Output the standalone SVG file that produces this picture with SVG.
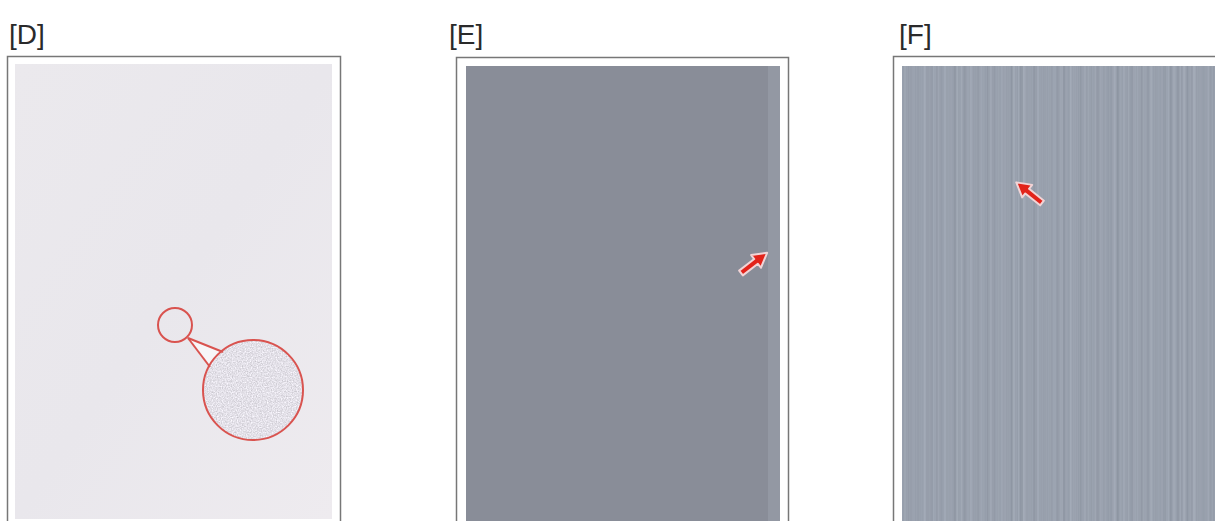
<svg xmlns="http://www.w3.org/2000/svg" width="1215" height="521" viewBox="0 0 1215 521">
<style>
.lbl{font-family:"Liberation Sans",Arial,sans-serif;font-size:28px;fill:#2a2a2a}
.frame{fill:#fff;stroke:#777;stroke-width:1.5}
.ring{fill:none;stroke:#d9534f;stroke-width:2}
.arrow{fill:#e2231a;stroke:#f2d4d6;stroke-width:2;stroke-linejoin:round}
</style>
<defs>
<linearGradient id="gD" x1="0" y1="0" x2="1" y2="1">
<stop offset="0" stop-color="#ebe9ed"/>
<stop offset="0.5" stop-color="#e9e7ec"/>
<stop offset="1" stop-color="#eeebef"/>
</linearGradient>
<filter id="speck" x="0" y="0" width="100%" height="100%" color-interpolation-filters="sRGB">
<feTurbulence type="fractalNoise" baseFrequency="0.8" numOctaves="2" seed="3" result="n"/>
<feColorMatrix in="n" type="matrix" values="0 0 0 0.3 0.74  0 0 0 0.3 0.73  0 0 0 0.3 0.76  0 0 0 0 1" result="c"/>
<feComposite in="c" in2="SourceGraphic" operator="in"/>
</filter>
<filter id="stripes" x="0" y="0" width="100%" height="100%" color-interpolation-filters="sRGB">
<feTurbulence type="fractalNoise" baseFrequency="0.3 0" numOctaves="3" seed="7" result="n"/>
<feColorMatrix in="n" type="matrix" values="0 0 0 0.16 0.52  0 0 0 0.16 0.55  0 0 0 0.16 0.6  0 0 0 0 1" result="c"/>
<feComposite in="c" in2="SourceGraphic" operator="in"/>
</filter>
<path id="arr" class="arrow" d="M0,-3 L19,-3 L19,-8 L33,0 L19,8 L19,3 L0,3 Z"/>
</defs>
<g id="panelD">
<text class="lbl" x="9" y="44">[D]</text>
<rect class="frame" x="7.5" y="56.5" width="333" height="475"/>
<rect x="15" y="64" width="317" height="455" fill="url(#gD)"/>
<g id="zoomD">
<path d="M188,338 L223,352 L210,367 Z" fill="#f7f6f8"/>
<circle cx="253" cy="390" r="50" fill="#fff" filter="url(#speck)"/>
<line x1="188" y1="338" x2="223" y2="352" stroke="#d9534f" stroke-width="2"/>
<line x1="188" y1="338" x2="210" y2="367" stroke="#d9534f" stroke-width="2"/>
<circle class="ring" cx="253" cy="390" r="50"/>
<circle class="ring" cx="175" cy="325" r="17" fill="#eceaee"/>
</g>
</g>
<g id="panelE">
<text class="lbl" x="449" y="44">[E]</text>
<rect class="frame" x="456.5" y="57.5" width="332" height="475"/>
<rect x="466" y="66" width="314" height="455" fill="#898d98"/>
<rect x="768" y="66" width="12" height="455" fill="#9398a3"/>
<use href="#arr" transform="translate(741,273) rotate(-37.6)"/>
</g>
<g id="panelF">
<text class="lbl" x="899" y="44">[F]</text>
<rect class="frame" x="893.5" y="56.5" width="340" height="475"/>
<rect x="902" y="66" width="313" height="455" fill="#fff" filter="url(#stripes)"/>
<use href="#arr" transform="translate(1042,203) rotate(-141.3)"/>
</g>
</svg>
